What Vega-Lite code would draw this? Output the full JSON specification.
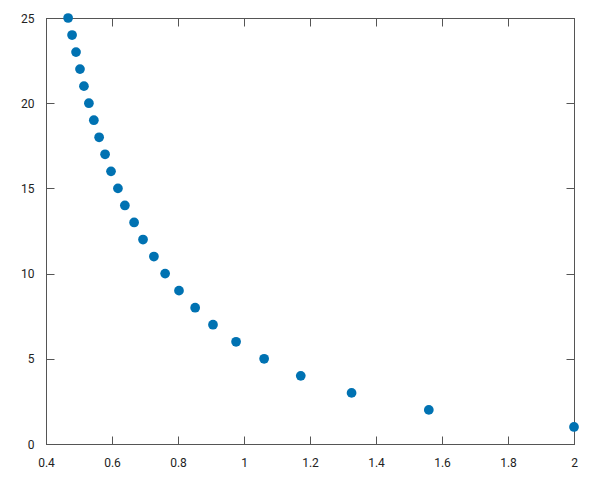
{
  "$schema": "https://vega.github.io/schema/vega-lite/v6.json",
  "width": 528,
  "height": 426,
  "autosize": "none",
  "padding": {"left": 46, "top": 18, "right": 26, "bottom": 36},
  "background": "white",
  "config": {
    "view": {"stroke": "#555", "strokeWidth": 1},
    "font": "Roboto",
    "axis": {
      "grid": false,
      "domainColor": "#555",
      "tickColor": "#555",
      "tickSize": -8,
      "labelFont": "Roboto",
      "labelFontSize": 12,
      "labelColor": "#222",
      "title": null
    }
  },
  "data": {
    "values": [
      {"x": 2.0, "y": 1},
      {"x": 1.560, "y": 2},
      {"x": 1.326, "y": 3},
      {"x": 1.172, "y": 4},
      {"x": 1.061, "y": 5},
      {"x": 0.976, "y": 6},
      {"x": 0.906, "y": 7},
      {"x": 0.852, "y": 8},
      {"x": 0.803, "y": 9},
      {"x": 0.761, "y": 10},
      {"x": 0.727, "y": 11},
      {"x": 0.694, "y": 12},
      {"x": 0.667, "y": 13},
      {"x": 0.639, "y": 14},
      {"x": 0.618, "y": 15},
      {"x": 0.597, "y": 16},
      {"x": 0.579, "y": 17},
      {"x": 0.561, "y": 18},
      {"x": 0.545, "y": 19},
      {"x": 0.530, "y": 20},
      {"x": 0.515, "y": 21},
      {"x": 0.503, "y": 22},
      {"x": 0.491, "y": 23},
      {"x": 0.479, "y": 24},
      {"x": 0.467, "y": 25}
    ]
  },
  "layer": [
    {
      "mark": {"type": "point", "filled": true, "size": 95, "opacity": 1, "color": "#0072b2"},
      "encoding": {
        "x": {"field": "x", "type": "quantitative", "scale": {"domain": [0.4, 2], "nice": false, "zero": false},
              "axis": {"orient": "bottom", "values": [0.4,0.6,0.8,1,1.2,1.4,1.6,1.8,2], "format": "~g", "labelPadding": 21, "labelFlush": false}},
        "y": {"field": "y", "type": "quantitative", "scale": {"domain": [0, 25], "nice": false},
              "axis": {"orient": "left", "values": [0,5,10,15,20,25], "labelPadding": 20}}
      }
    },
    {
      "mark": {"type": "point", "filled": true, "size": 95, "opacity": 0},
      "encoding": {
        "x": {"field": "x", "type": "quantitative",
              "axis": {"orient": "top", "values": [0.4,0.6,0.8,1,1.2,1.4,1.6,1.8,2], "labels": false}},
        "y": {"field": "y", "type": "quantitative",
              "axis": {"orient": "right", "values": [0,5,10,15,20,25], "labels": false}}
      }
    }
  ],
  "resolve": {"axis": {"x": "independent", "y": "independent"}}
}
